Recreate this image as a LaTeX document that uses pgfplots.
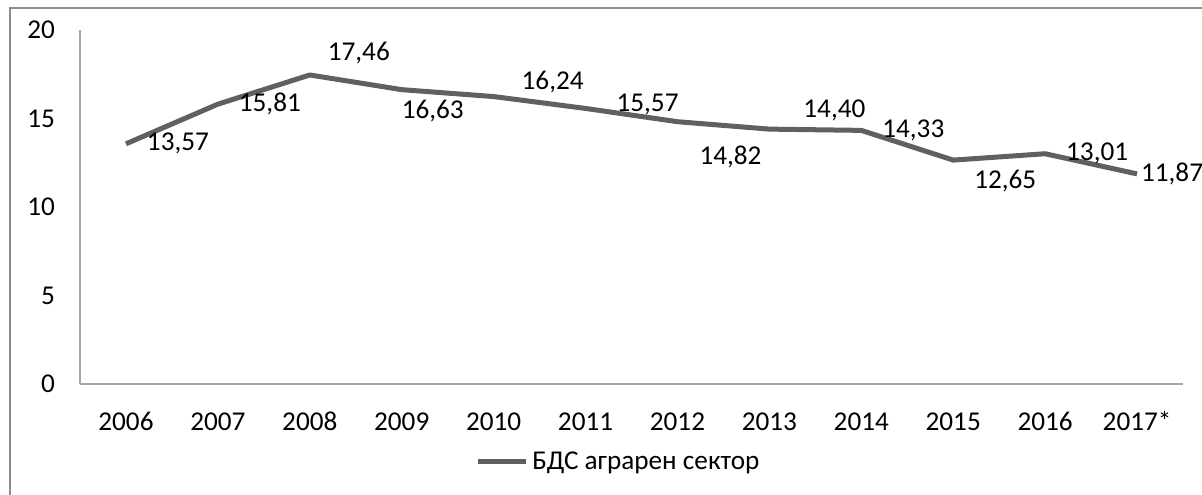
\documentclass[border=0pt]{standalone}
\usepackage{pgfplots}
\usepackage{pgfplotstable}
\pgfplotsset{compat=1.18}
\usepackage{fontspec}
\setmainfont{Carlito}
\definecolor{linegray}{RGB}{96,96,96}
\definecolor{axisgray}{RGB}{165,165,165}
\definecolor{framegray}{RGB}{140,140,140}
\pgfplotstableread{
x y dx dy
0 13.57 26 0
1 15.81 26 0
2 17.46 24.5 11
3 16.63 15.5 -10.5
4 16.24 29.5 7.5
5 15.57 31 2
6 14.82 26.5 -17.5
7 14.40 32.5 9.5
8 14.33 26 0
9 12.65 26 -10.5
10 13.01 26 0
11 11.87 17.5 0
}\datatable
\begin{document}
\begin{tikzpicture}
\useasboundingbox (0,0) rectangle (601pt,-247pt);
\draw[framegray, line width=1.2pt] (5pt,-4pt) rectangle (640pt,-290pt);
\begin{axis}[
  at={(40pt,-192pt)}, anchor=south west,
  scale only axis, width=551.5pt, height=177pt,
  xmin=-0.5, xmax=11.5, ymin=0, ymax=20,
  xtick={0,...,11},
  xticklabels={2006,2007,2008,2009,2010,2011,2012,2013,2014,2015,2016,2017*},
  ytick={0,5,10,15,20},
  major tick length=0pt,
  axis x line*=bottom, axis y line*=left,
  axis line style={draw=axisgray, line width=0.6pt, -},
  tick label style={font=\fontsize{13.6}{16}\selectfont, text=black},
  xticklabel style={text height=9pt, text depth=0pt, anchor=north},
  /pgf/number format/assume math mode=true,
  yticklabel shift=9pt,
  xticklabel shift=10.5pt,
  clip=false,
  legend style={at={(0.489,-0.22)}, anchor=center, draw=none, fill=none,
    font=\fontsize{13.6}{16}\selectfont, inner sep=0pt},
  legend image code/.code={\draw[line width=2.5pt, linegray] (0pt,0pt) -- (24pt,0pt);},
]
\addplot[color=linegray, line width=2.5pt, line join=round,
  nodes near coords={\pgfmathprintnumber[use comma,fixed,fixed zerofill,precision=2,assume math mode=true]{\pgfplotspointmeta}},
  visualization depends on={\thisrow{dx}\as\dx},
  visualization depends on={\thisrow{dy}\as\dy},
  every node near coord/.append style={anchor=center, xshift=\dx*1pt, yshift=\dy*1pt,
    font=\fontsize{13.6}{16}\selectfont, text=black, inner sep=0pt}]
  table[x=x, y=y] {\datatable};
\addlegendentry{БДС аграрен сектор}
\end{axis}
\end{tikzpicture}
\end{document}
